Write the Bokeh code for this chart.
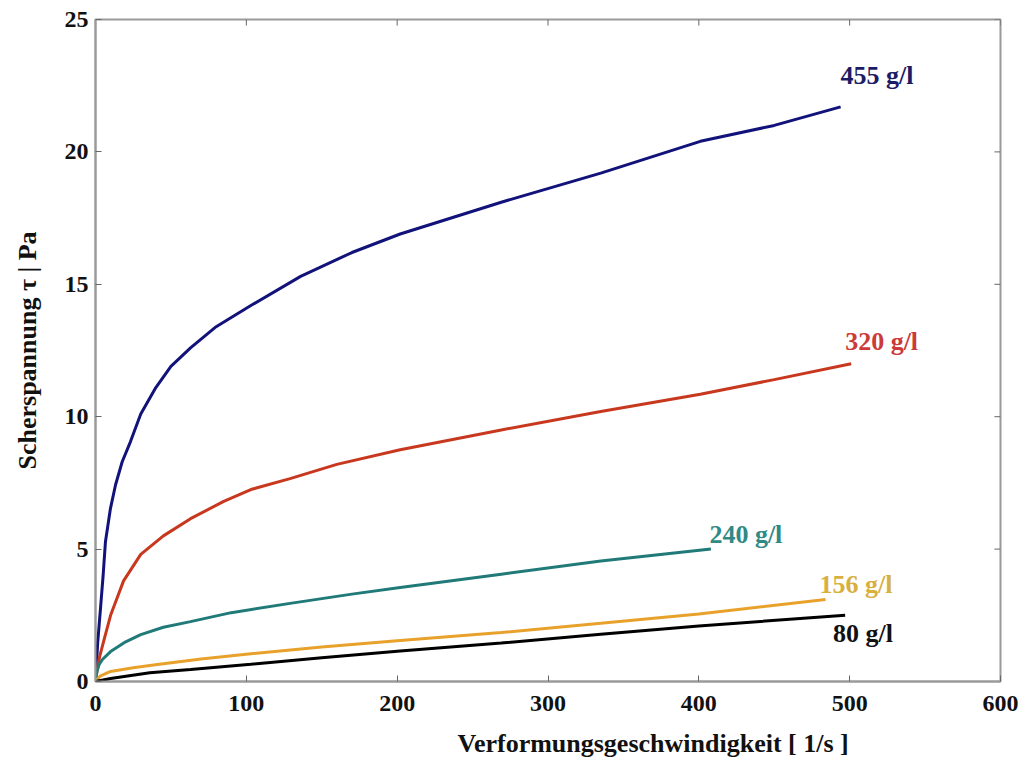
from bokeh.plotting import figure
from bokeh.models import Range1d, FixedTicker, ColumnDataSource, Title
from bokeh.core.properties import value
from bokeh.embed import file_html
from bokeh.resources import INLINE

# Data (shear rate [1/s], shear stress [Pa])
x455 = [0, 1.5, 3.3, 5.1, 6.6, 9.9, 13.3, 17.7, 23.2, 30, 40, 50, 63, 80, 103, 136, 170, 202, 269, 335, 401, 450, 494]
y455 = [0, 1.5, 2.75, 4.04, 5.28, 6.53, 7.43, 8.3, 9.06, 10.1, 11.1, 11.9, 12.6, 13.4, 14.2, 15.3, 16.2, 16.9, 18.1, 19.2, 20.4, 21.0, 21.7]

x320 = [0, 1.5, 3, 5.3, 10, 18.6, 30, 45, 63, 85, 103, 129, 160, 202, 269, 335, 401, 450, 501]
y320 = [0, 0.6, 1.0, 1.5, 2.5, 3.8, 4.8, 5.5, 6.15, 6.8, 7.25, 7.66, 8.2, 8.75, 9.5, 10.2, 10.85, 11.4, 12.0]

x240 = [0, 1, 2.5, 4.6, 10, 20, 30, 45, 63, 90, 129, 170, 202, 269, 335, 408]
y240 = [0, 0.4, 0.65, 0.83, 1.13, 1.5, 1.77, 2.05, 2.26, 2.6, 2.95, 3.3, 3.55, 4.05, 4.55, 5.0]

x156 = [0, 3, 10, 25, 41, 70, 103, 150, 202, 269, 335, 400, 484]
y156 = [0, 0.2, 0.38, 0.52, 0.64, 0.85, 1.05, 1.3, 1.55, 1.85, 2.2, 2.55, 3.1]

x80 = [0, 10, 36, 63, 103, 150, 202, 269, 335, 400, 497]
y80 = [0, 0.11, 0.33, 0.45, 0.65, 0.9, 1.15, 1.45, 1.78, 2.1, 2.5]

series_names = ["455 g/l", "320 g/l", "240 g/l", "156 g/l", "80 g/l"]
series_x = [x455, x320, x240, x156, x80]
series_y = [y455, y320, y240, y156, y80]
line_colors = ["#12137a", "#c8381e", "#1f7a78", "#e8a22c", "#000000"]
text_colors = ["#1c1c66", "#cc3a3a", "#2f8a86", "#d8b040", "#111111"]

# label anchor positions (data coords)
label_x = [494, 497, 407, 480, 489]
label_y = [22.9, 12.83, 5.55, 3.66, 1.81]

x_ticks = [0, 100, 200, 300, 400, 500, 600]
y_ticks = [0, 5, 10, 15, 20, 25]

FONT = "Liberation Serif"
FRAME = "#9a9a9a"
TICK = "#666666"

p = figure(width=1023, height=770, output_backend="svg", toolbar_location=None,
           x_range=Range1d(0, 600), y_range=Range1d(0, 25),
           min_border_left=95, min_border_right=23, min_border_top=19, min_border_bottom=30)
p.grid.visible = False
p.outline_line_color = FRAME
p.outline_line_width = 2
p.background_fill_color = "white"
p.border_fill_color = "white"

for ax in (p.xaxis[0], p.yaxis[0]):
    ax.axis_line_color = FRAME
    ax.axis_line_width = 2
    ax.major_tick_in = 6
    ax.major_tick_out = 0
    ax.major_tick_line_color = TICK
    ax.minor_tick_line_color = None
    ax.major_label_text_font = FONT
    ax.major_label_text_font_style = "bold"
    ax.major_label_text_font_size = "24px"
    ax.major_label_text_color = "#111111"
    ax.axis_label_text_font = FONT
    ax.axis_label_text_font_style = "bold"
    ax.axis_label_text_font_size = "26px"
    ax.axis_label_text_color = "#111111"

p.xaxis[0].ticker = FixedTicker(ticks=x_ticks)
p.yaxis[0].ticker = FixedTicker(ticks=y_ticks)
p.xaxis[0].major_label_standoff = 14
p.yaxis[0].major_label_standoff = 7
p.yaxis[0].axis_label = "Scherspannung τ | Pa"
p.yaxis[0].axis_label_standoff = 20

# mirrored inward ticks on the top and right edges of the frame
tick_len_x = 4.0    # data units (~6 px)
tick_len_y = 0.23
p.segment(x0=x_ticks, y0=[25] * len(x_ticks), x1=x_ticks, y1=[25 - tick_len_y] * len(x_ticks),
          line_color=TICK, line_width=1)
p.segment(x0=[600] * len(y_ticks), y0=y_ticks, x1=[600 - tick_len_x] * len(y_ticks), y1=y_ticks,
          line_color=TICK, line_width=1)

for xs, ys, c in zip(series_x, series_y, line_colors):
    p.line(xs, ys, line_color=c, line_width=3)

src = ColumnDataSource(dict(x=label_x, y=label_y, t=series_names, c=text_colors))
p.text(x="x", y="y", text="t", text_color="c", source=src,
       text_font=value(FONT), text_font_style="bold", text_font_size="26px",
       text_baseline="middle", text_align="left")

xtitle = Title(text="Verformungsgeschwindigkeit  [ 1/s ]", align="left", offset=362,
               text_font=FONT, text_font_style="bold", text_font_size="26px",
               text_color="#111111", standoff=26)
p.add_layout(xtitle, "below")

open("out.html", "w").write(file_html(p, INLINE))
